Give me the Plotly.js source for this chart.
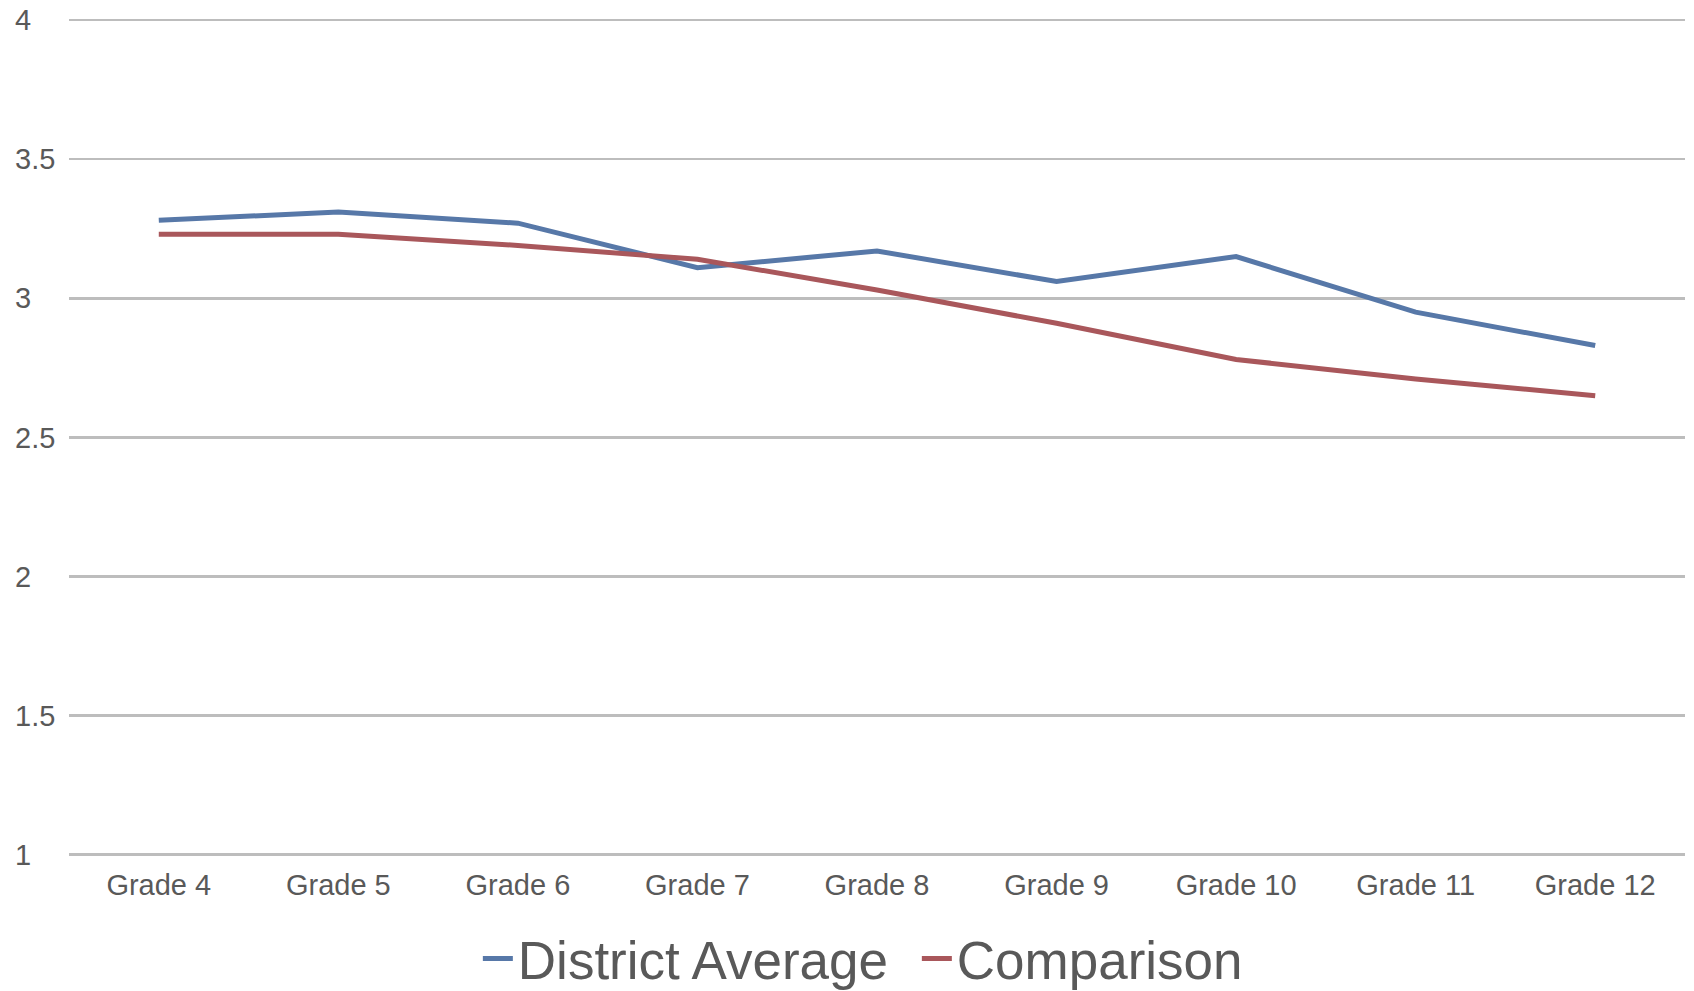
<!DOCTYPE html>
<html>
<head>
<meta charset="utf-8">
<script src="https://cdn.plot.ly/plotly-3.0.1.min.js"></script>
<style>html,body{margin:0;padding:0;background:#fff;}#chart{width:1694px;height:991px;}</style>
</head>
<body>
<div id="chart"></div>
<script>
const grades = ["Grade 4","Grade 5","Grade 6","Grade 7","Grade 8","Grade 9","Grade 10","Grade 11","Grade 12"];
const districtAverage = [3.28, 3.31, 3.27, 3.11, 3.17, 3.06, 3.15, 2.95, 2.83];
const comparison = [3.23, 3.23, 3.19, 3.14, 3.03, 2.91, 2.78, 2.71, 2.65];
const yTicks = [1, 1.5, 2, 2.5, 3, 3.5, 4];
const yTickText = ["1", "1.5", "2", "2.5", "3", "3.5", "4"];

const traces = [
  {x: grades, y: districtAverage, name: "District Average", type: "scatter", mode: "lines",
   line: {color: "#5778a8", width: 5}},
  {x: grades, y: comparison, name: "Comparison", type: "scatter", mode: "lines",
   line: {color: "#a9575b", width: 5}}
];

const layout = {
  width: 1694, height: 991,
  paper_bgcolor: "#ffffff", plot_bgcolor: "#ffffff",
  margin: {l: 69, r: 9, t: 0, b: 114, autoexpand: false},
  font: {family: "Liberation Sans, Arial, sans-serif", color: "#595959"},
  showlegend: true,
  legend: {orientation: "h", x: 0.253, xanchor: "left", y: -0.093, yanchor: "middle",
           font: {size: 53, color: "#595959"}, entrywidth: 394, entrywidthmode: "pixels",
           itemwidth: 30, tracegroupgap: 0},
  xaxis: {type: "category", range: [-0.5, 8.5], showgrid: false, zeroline: false, showline: false,
          ticks: "", tickfont: {size: 29, color: "#595959"}, ticklabelstandoff: -12,
          automargin: false, fixedrange: true},
  yaxis: {range: [0.92, 4.072], tickvals: yTicks, ticktext: yTickText, showgrid: true,
          gridcolor: "#bdbdbd", gridwidth: 2.5, zeroline: false, showline: false, ticks: "",
          ticklabelposition: "inside", ticklabelstandoff: -57, automargin: false,
          tickfont: {size: 29, color: "#595959"}, fixedrange: true}
};

Plotly.newPlot("chart", traces, layout, {displayModeBar: false, staticPlot: true});
</script>
</body>
</html>
